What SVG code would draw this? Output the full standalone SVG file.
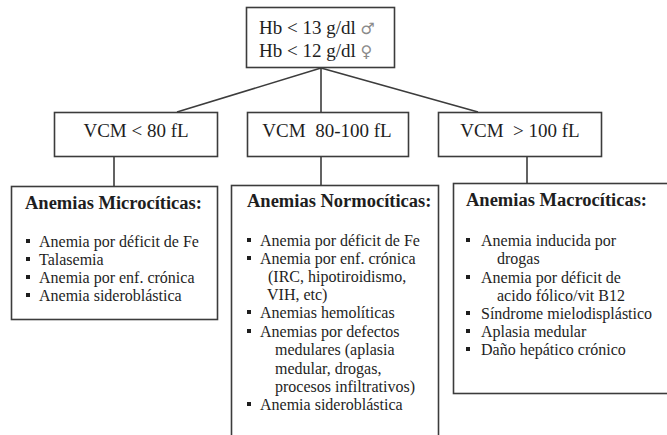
<svg xmlns="http://www.w3.org/2000/svg" width="667" height="435" viewBox="0 0 667 435">
<style>
.box{fill:#ffffff;stroke:#3c3c3c;stroke-width:1.6}
.ln{stroke:#3c3c3c;stroke-width:1.6;fill:none}
.t{font-family:"Liberation Serif","Times New Roman",serif;fill:#1e1e1e}
.h{font-size:19px}
.ti{font-size:18.5px;font-weight:bold}
.it{font-size:16px}
.sym{font-family:"DejaVu Sans",sans-serif;font-size:16px;fill:#8a8a8a}
.b{fill:#1e1e1e}
</style>
<defs>
<rect id="bul" width="4" height="4" class="b"/>
</defs>
<rect width="667" height="435" fill="#ffffff"/>
<g id="connectors">
<line class="ln" x1="321" y1="68" x2="177" y2="112"/>
<line class="ln" x1="321" y1="68" x2="321" y2="112"/>
<line class="ln" x1="321" y1="68" x2="478" y2="112"/>
<line class="ln" x1="114" y1="156" x2="114" y2="186"/>
<line class="ln" x1="321" y1="156" x2="321" y2="185"/>
<line class="ln" x1="527" y1="157" x2="527" y2="183"/>
</g>
<g id="root">
<rect class="box" x="246.5" y="7.5" width="148" height="60"/>
<text class="t h" x="259" y="34">Hb &lt; 13 g/dl <tspan class="sym">♂</tspan></text>
<text class="t h" x="259" y="57">Hb &lt; 12 g/dl <tspan class="sym">♀</tspan></text>
</g>
<g id="vcm-low">
<rect class="box" x="54.5" y="112.5" width="163" height="44"/>
<text class="t h" x="136" y="137" text-anchor="middle">VCM &lt; 80 fL</text>
</g>
<g id="vcm-mid">
<rect class="box" x="247.5" y="112.5" width="161" height="44"/>
<text class="t h" x="327" y="137" text-anchor="middle" xml:space="preserve">VCM  80-100 fL</text>
</g>
<g id="vcm-high">
<rect class="box" x="438.5" y="112.5" width="163" height="44"/>
<text class="t h" x="520" y="137" text-anchor="middle" xml:space="preserve">VCM  &gt; 100 fL</text>
</g>
<g id="micro">
<rect class="box" x="11.5" y="186.5" width="206" height="133"/>
<text class="t ti" x="25" y="209">Anemias Microcíticas:</text>
<use href="#bul" x="26" y="239"/>
<text class="t it" x="39" y="247">Anemia por déficit de Fe</text>
<use href="#bul" x="26" y="257"/>
<text class="t it" x="39" y="265">Talasemia</text>
<use href="#bul" x="26" y="275"/>
<text class="t it" x="39" y="283">Anemia por enf. crónica</text>
<use href="#bul" x="26" y="293"/>
<text class="t it" x="39" y="301">Anemia sideroblástica</text>
</g>
<g id="normo">
<rect class="box" x="231.5" y="185.5" width="207" height="260"/>
<text class="t ti" x="247" y="207">Anemias Normocíticas:</text>
<use href="#bul" x="247" y="238"/>
<text class="t it" x="260" y="246">Anemia por déficit de Fe</text>
<use href="#bul" x="247" y="256"/>
<text class="t it" x="260" y="264">Anemia por enf. crónica</text>
<text class="t it" x="268" y="282">(IRC, hipotiroidismo,</text>
<text class="t it" x="267" y="300">VIH, etc)</text>
<use href="#bul" x="247" y="310"/>
<text class="t it" x="260" y="318">Anemias hemolíticas</text>
<use href="#bul" x="247" y="329"/>
<text class="t it" x="260" y="337">Anemias por defectos</text>
<text class="t it" x="275" y="355">medulares (aplasia</text>
<text class="t it" x="275" y="374">medular, drogas,</text>
<text class="t it" x="275" y="392">procesos infiltrativos)</text>
<use href="#bul" x="247" y="402"/>
<text class="t it" x="260" y="410">Anemia sideroblástica</text>
</g>
<g id="macro">
<rect class="box" x="453.5" y="183.5" width="220" height="210"/>
<text class="t ti" x="466" y="206">Anemias Macrocíticas:</text>
<use href="#bul" x="466" y="238"/>
<text class="t it" x="481" y="246">Anemia inducida por</text>
<text class="t it" x="497" y="264">drogas</text>
<use href="#bul" x="466" y="275"/>
<text class="t it" x="481" y="283">Anemia por déficit de</text>
<text class="t it" x="497" y="301">acido fólico/vit B12</text>
<use href="#bul" x="466" y="311"/>
<text class="t it" x="481" y="319">Síndrome mielodisplástico</text>
<use href="#bul" x="466" y="329"/>
<text class="t it" x="481" y="337">Aplasia medular</text>
<use href="#bul" x="466" y="347"/>
<text class="t it" x="481" y="355">Daño hepático crónico</text>
</g>
</svg>
